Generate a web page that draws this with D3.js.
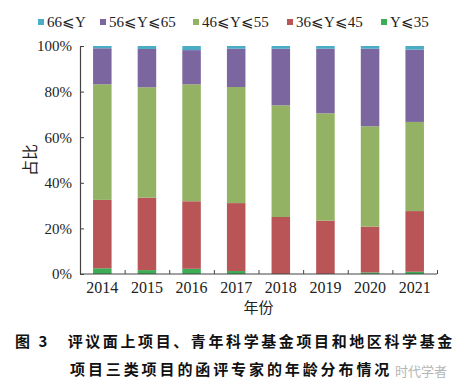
<!DOCTYPE html>
<html><head><meta charset="utf-8">
<script src="https://cdn.jsdelivr.net/npm/d3@7"></script>
<style>
html,body{margin:0;padding:0;background:#fff;}
svg{display:block;}
</style></head>
<body>
<svg id="chart" width="461" height="390"></svg>
<script>
const years = ["2014","2015","2016","2017","2018","2019","2020","2021"];
const seriesNames = ["Y⩽35","36⩽Y⩽45","46⩽Y⩽55","56⩽Y⩽65","66⩽Y"];
const yLe35    = [2.5, 1.7, 2.3, 1.3, 0.0, 0.0, 0.7, 1.0];
const y36to45  = [30.0, 31.8, 29.6, 29.8, 25.0, 23.4, 20.1, 26.6];
const y46to55  = [50.7, 48.4, 51.3, 50.9, 49.0, 47.1, 44.0, 39.1];
const y56to65  = [15.8, 16.8, 15.0, 16.8, 24.8, 28.3, 34.0, 31.7];
const yGe66    = [1.0, 1.3, 1.8, 1.2, 1.2, 1.2, 1.2, 1.6];
const yTicks   = [0, 20, 40, 60, 80, 100];
const legendOrder = ["66⩽Y","56⩽Y⩽65","46⩽Y⩽55","36⩽Y⩽45","Y⩽35"];
const colors = {"Y⩽35":"#3aad55","36⩽Y⩽45":"#b95457","46⩽Y⩽55":"#94b264","56⩽Y⩽65":"#7c66a0","66⩽Y":"#4badc5"};

const rows = years.map((yr,i)=>({year:yr,"Y⩽35":yLe35[i],"36⩽Y⩽45":y36to45[i],"46⩽Y⩽55":y46to55[i],"56⩽Y⩽65":y56to65[i],"66⩽Y":yGe66[i]}));
const stacked = d3.stack().keys(seriesNames)(rows);

const svg = d3.select("#chart");
const serif = "'Liberation Serif','Times New Roman',serif";
const cjk = "'Noto Sans CJK SC','Noto Sans',sans-serif";
const L = 80, R = 437, T = 46, B = 274;

const x = d3.scaleBand().domain(years).range([L, R]).paddingInner(0.585).paddingOuter(0.2925);
const y = d3.scaleLinear().domain([0, 100]).range([B, T]);

// bars
svg.append("g").selectAll("g").data(stacked).join("g")
  .attr("fill", d => colors[d.key])
  .selectAll("rect").data(d => d).join("rect")
  .attr("x", d => x(d.data.year))
  .attr("width", x.bandwidth())
  .attr("y", d => y(d[1]))
  .attr("height", d => Math.max(0, y(d[0]) - y(d[1])));

// y axis
const yAxis = svg.append("g").attr("transform", `translate(${L},0)`)
  .call(d3.axisLeft(y).tickValues(yTicks).tickFormat(d => d + "%").tickSizeInner(-4).tickSizeOuter(0).tickPadding(8));
yAxis.select(".domain").attr("stroke", "#444").attr("stroke-width", 1.2);
yAxis.selectAll(".tick line").attr("stroke", "#444");
yAxis.selectAll("text").attr("font-family", serif).attr("font-size", 15).attr("fill", "#222");

// x axis
const xb = d3.scaleLinear().domain([0, years.length]).range([L, R]);
svg.append("line").attr("x1", L).attr("x2", R).attr("y1", B).attr("y2", B).attr("stroke", "#444").attr("stroke-width", 1.2);
const xAxisG = svg.append("g").attr("transform", `translate(0,${B})`)
  .call(d3.axisBottom(xb).tickValues(d3.range(1, years.length + 1)).tickFormat("").tickSizeInner(-4).tickSizeOuter(0));
xAxisG.select(".domain").remove();
xAxisG.selectAll(".tick line").attr("stroke", "#444");
const xl = svg.append("g").attr("transform", `translate(0,${B})`)
  .call(d3.axisBottom(x).tickSize(0).tickPadding(8));
xl.select(".domain").remove();
xl.selectAll("text").attr("font-family", serif).attr("font-size", 16).attr("fill", "#222");

// axis titles
svg.append("text").attr("transform", `translate(36,${(T+B)/2}) rotate(-90)`)
  .attr("text-anchor", "middle").attr("font-family", cjk).attr("font-size", 16).attr("fill", "#222").text("占比");
svg.append("text").attr("x", (L+R)/2).attr("y", 313).attr("text-anchor", "middle")
  .attr("font-family", cjk).attr("font-size", 15).attr("fill", "#222").text("年份");

// legend
const legX = [38, 100, 193, 287, 381];
const leg = svg.append("g");
legendOrder.forEach((k, i) => {
  leg.append("rect").attr("x", legX[i]).attr("y", 19).attr("width", 6).attr("height", 6).attr("fill", colors[k]);
  leg.append("text").attr("x", legX[i] + 9).attr("y", 27).attr("font-family", serif).attr("font-size", 15).attr("fill", "#222").text(k);
});

// caption
svg.append("text").attr("x", 15).attr("y", 347).attr("font-family", cjk).attr("font-weight", "bold")
  .attr("font-size", 15).attr("fill", "#111").attr("letter-spacing", 2.6)
  .text("图 3　评议面上项目、青年科学基金项目和地区科学基金");
svg.append("text").attr("x", 70).attr("y", 375).attr("font-family", cjk).attr("font-weight", "bold")
  .attr("font-size", 15).attr("fill", "#111").attr("letter-spacing", 2.9)
  .text("项目三类项目的函评专家的年龄分布情况");
svg.append("text").attr("x", 395).attr("y", 376).attr("font-family", cjk)
  .attr("font-size", 13).attr("fill", "#b5b5b5").text("时代学者");
</script>
</body></html>
